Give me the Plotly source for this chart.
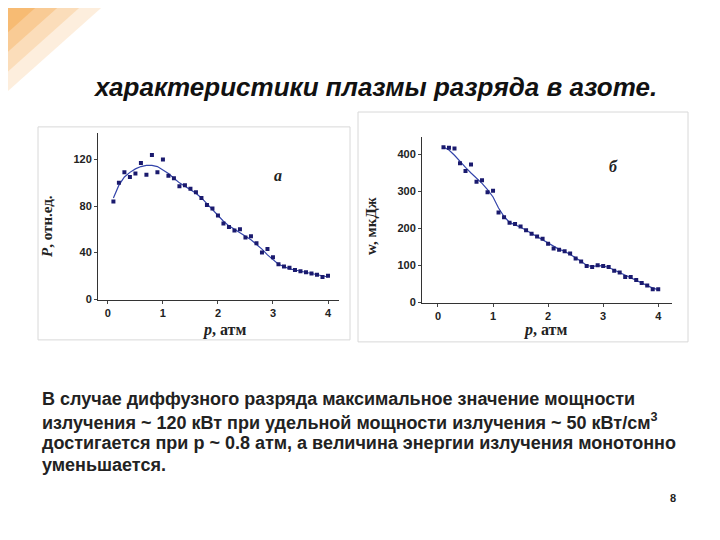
import plotly.graph_objects as go

p = [round(0.1*i, 1) for i in range(1, 41)]
P_pts = [84,100,109,105,108,117,107,124,109,120,106,104,97,98,95,92,87,81,78,72,
         65,62,59,60,53,54,48,40,43,36,30,28,27,25,24,23,22,21,19,20]
P_fit = [87,98,105,109,112,114,115,115,114,111,108,104,100,97,94,91,87,82,77,72,
         67,63,60,57,54,51,47,43,38,34,30,28,26,25,24,23,22,21,20,19]
W_pts = [420,418,416,376,355,373,326,330,298,302,243,230,215,212,205,195,185,178,172,158,
         145,142,138,132,118,110,98,95,100,98,95,85,80,68,68,60,52,45,35,35]
W_fit = [420,412,398,380,365,350,337,322,305,285,255,232,216,210,203,195,186,178,170,160,
         150,143,138,130,120,110,100,96,99,98,94,87,80,72,66,59,52,45,38,34]

title = "характеристики плазмы разряда в азоте."
para = ["В случае диффузного разряда максимальное значение мощности",
        "излучения ~ 120 кВт при удельной мощности излучения ~ 50 кВт/см<sup>3</sup>",
        "достигается при p ~ 0.8 атм, а величина энергии излучения монотонно",
        "уменьшается."]

OFF = 8
def X(px): return (px - OFF) / 720
def Y(py): return 1 - (py - OFF) / 540

navy = "#1a1a6e"
fig = go.Figure()
fig.add_trace(go.Scatter(x=p, y=P_fit, mode="lines", line=dict(color="#3344aa", width=1.2), xaxis="x", yaxis="y"))
fig.add_trace(go.Scatter(x=p, y=P_pts, mode="markers", marker=dict(color=navy, size=4, symbol="square"), xaxis="x", yaxis="y"))
fig.add_trace(go.Scatter(x=p, y=W_fit, mode="lines", line=dict(color="#3344aa", width=1.2), xaxis="x2", yaxis="y2"))
fig.add_trace(go.Scatter(x=p, y=W_pts, mode="markers", marker=dict(color=navy, size=4, symbol="square"), xaxis="x2", yaxis="y2"))

serif = "Liberation Serif"
common = dict(showgrid=False, zeroline=False, showline=True, linecolor="#333", linewidth=1,
              ticks="outside", ticklen=3,
              tickfont=dict(family="Liberation Sans", size=11, color="#222", weight="bold"))
fig.update_layout(
    width=720, height=540, margin=dict(l=0, r=0, t=0, b=0), showlegend=False,
    paper_bgcolor="white", plot_bgcolor="white",
    xaxis=dict(domain=[X(98), X(339)], range=[-0.18, 4.2], tickvals=[0,1,2,3,4], anchor="y", **common),
    yaxis=dict(domain=[Y(303), Y(134)], range=[-1, 143], tickvals=[0,40,80,120], anchor="x", **common),
    xaxis2=dict(domain=[X(422), X(672)], range=[-0.29, 4.25], tickvals=[0,1,2,3,4], anchor="y2", **common),
    yaxis2=dict(domain=[Y(306), Y(138)], range=[-3, 448], tickvals=[0,100,200,300,400], anchor="x2", **common),
)
shapes = [
    dict(type="rect", xref="paper", yref="paper", x0=X(38), x1=X(350), y0=Y(343), y1=Y(128),
         line=dict(color="#d8d8d8", width=1), layer="below"),
    dict(type="rect", xref="paper", yref="paper", x0=X(358), x1=X(688), y0=Y(345), y1=Y(113),
         line=dict(color="#d8d8d8", width=1), layer="below"),
]
for i, op in enumerate([0.18, 0.22, 0.3, 0.4]):
    w = 110 - i*22
    shapes.append(dict(type="path", xref="paper", yref="paper",
                       path=f"M {X(0)} {Y(0)} L {X(w)} {Y(0)} L {X(0)} {Y(w*0.9)} Z",
                       fillcolor="#f4a340", opacity=op, line=dict(width=0)))
fig.update_layout(shapes=shapes)

lab = dict(family=serif, size=16, color="#222", weight="bold")
ann = [
    dict(x=X(375), y=Y(88), text="<b><i>"+title+"</i></b>", font=dict(family="Liberation Sans", size=26, color="#111")),
    dict(x=X(47), y=Y(228), text="<i>P</i>, отн.ед.", textangle=-90, font=dict(family=serif, size=15, color="#222", weight="bold")),
    dict(x=X(224), y=Y(333), text="<i>p</i>, атм", font=lab),
    dict(x=X(278), y=Y(177), text="<b><i>а</i></b>", font=lab),
    dict(x=X(371), y=Y(228), text="w, мкДж", textangle=-90, font=dict(family=serif, size=15, color="#222", weight="bold")),
    dict(x=X(545), y=Y(333), text="<i>p</i>, атм", font=lab),
    dict(x=X(613), y=Y(168), text="<b><i>б</i></b>", font=lab),
    dict(x=X(673), y=Y(503), text="<b>8</b>", font=dict(family="Liberation Sans", size=11, color="#222")),
]
for i, line in enumerate(para):
    ann.append(dict(x=X(40), y=Y(403+22*i), text="<b>"+line+"</b>", xanchor="left",
                    font=dict(family="Liberation Sans", size=18, color="#222")))
for a in ann:
    a.setdefault("xanchor", "center")
    fig.add_annotation(xref="paper", yref="paper", showarrow=False, yanchor="middle", **a)

fig.write_html("out.html")
